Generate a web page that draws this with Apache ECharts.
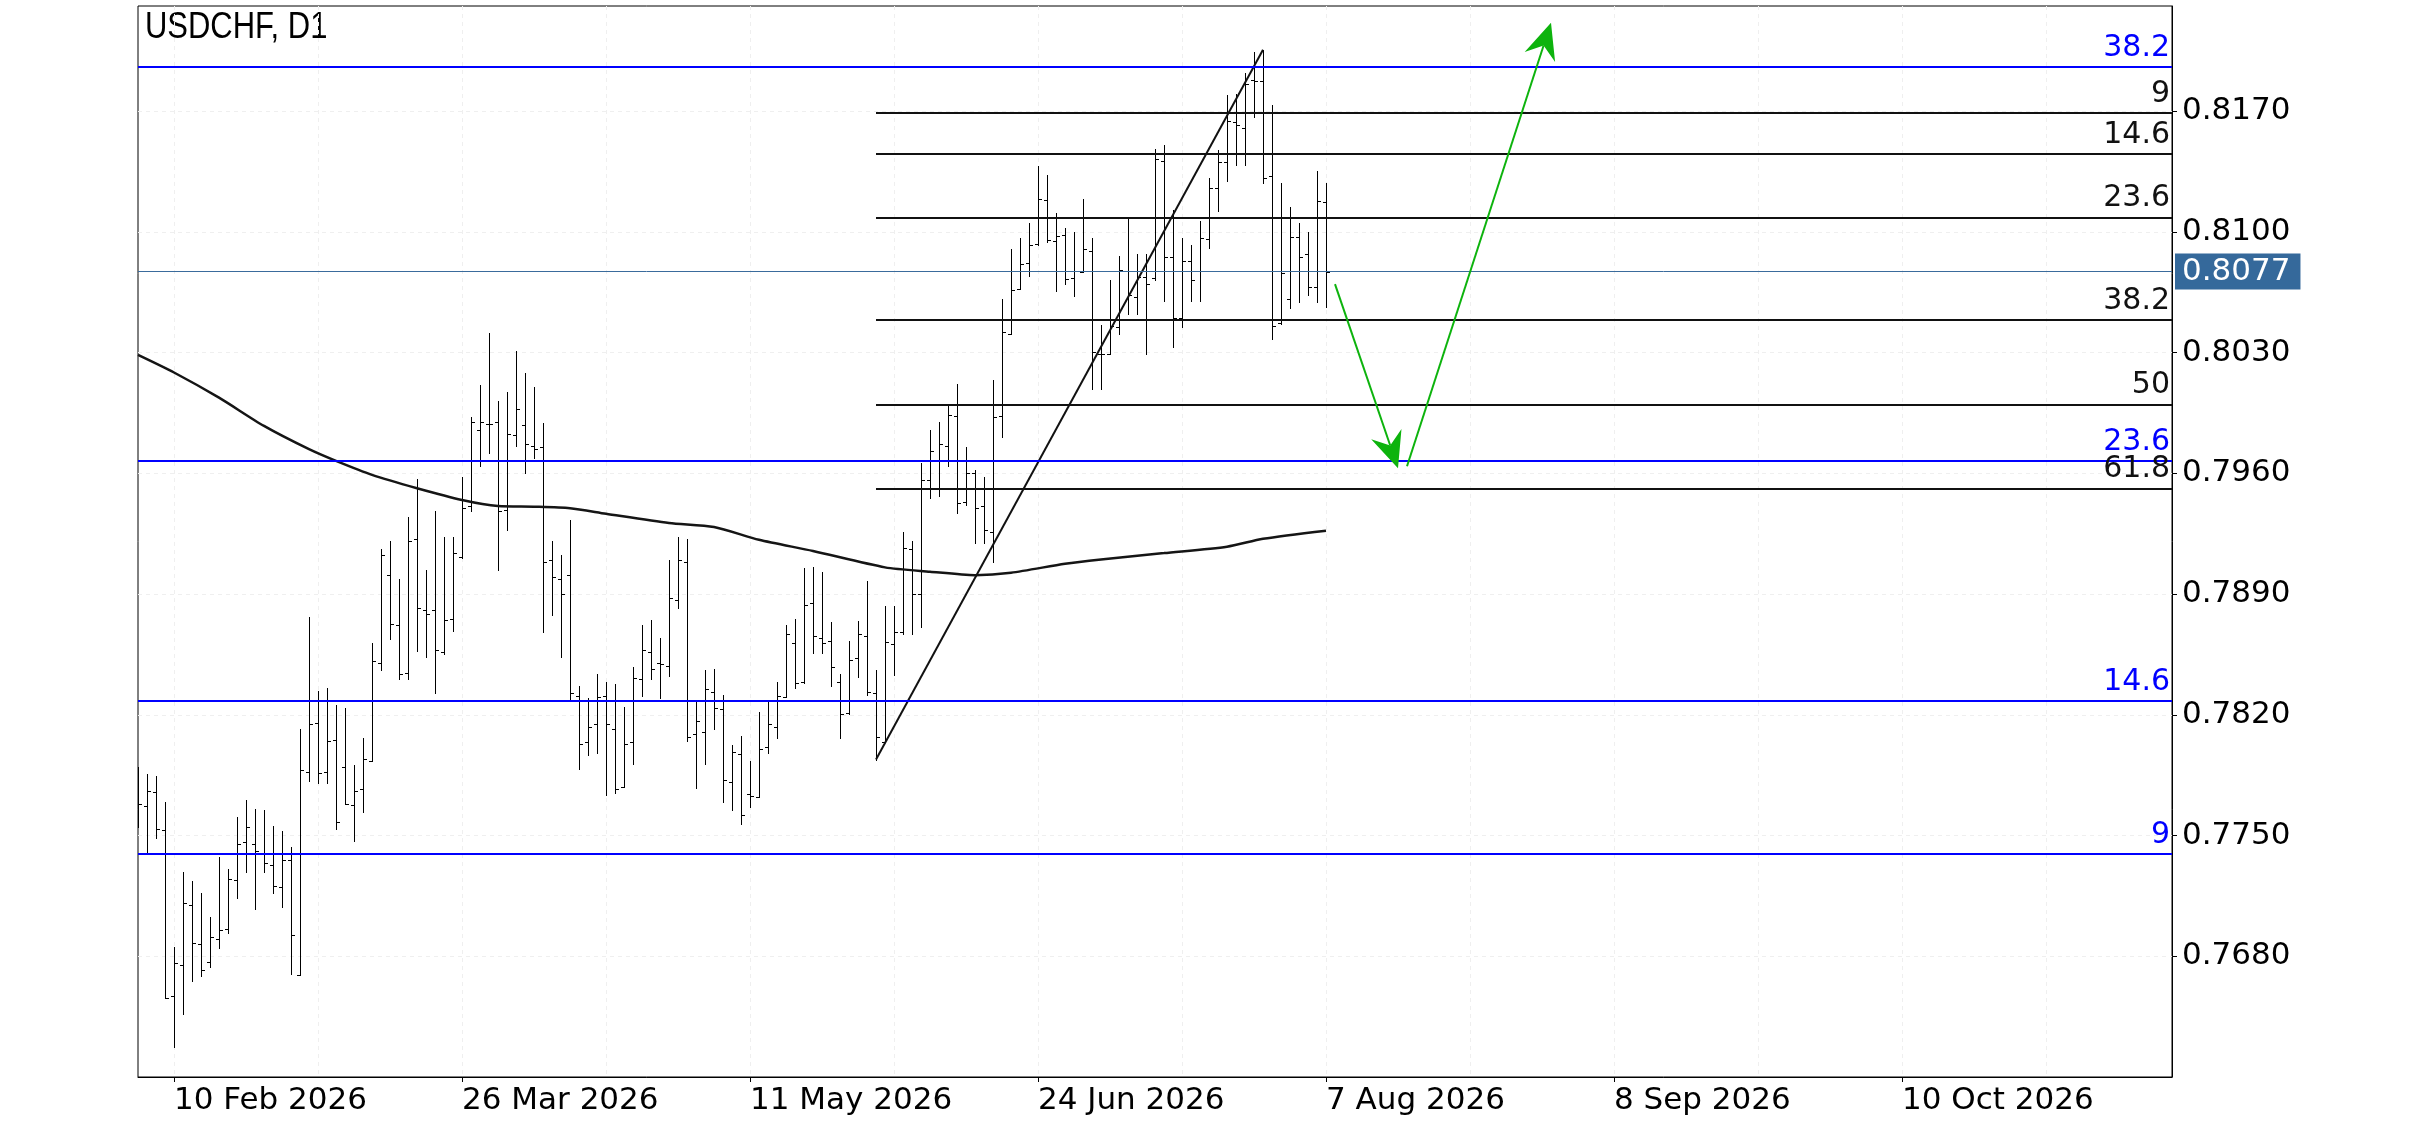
<!DOCTYPE html>
<html><head><meta charset="utf-8">
<script src="https://cdn.jsdelivr.net/npm/echarts/dist/echarts.min.js"></script>
<style>html,body{margin:0;padding:0;background:#fff}#c{width:2436px;height:1125px}</style>
</head><body><div id="c"></div>
<script>
// ---- DATA (daily bars, first bar = 4 Feb 2026) ----
const openP = [0.77700,0.77674,0.77753,0.77534,0.76571,0.76751,0.77099,0.76873,0.76768,0.76902,0.76960,0.77244,0.77465,0.77453,0.77401,0.77331,0.77203,0.77360,0.76693,0.77870,0.78155,0.77869,0.78056,0.77896,0.77675,0.77770,0.77935,0.78503,0.79008,0.78718,0.78444,0.79217,0.78807,0.78805,0.78563,0.78753,0.79115,0.79409,0.79850,0.79889,0.79898,0.79386,0.79821,0.79879,0.79757,0.79751,0.79096,0.78985,0.79008,0.78312,0.78043,0.78144,0.78312,0.78115,0.77784,0.78043,0.78405,0.78567,0.78502,0.78486,0.78864,0.79084,0.78086,0.78101,0.78335,0.78235,0.77813,0.77975,0.77741,0.77726,0.78014,0.78132,0.78304,0.78614,0.78391,0.78846,0.78643,0.78627,0.78390,0.78212,0.78527,0.78656,0.78324,0.78045,0.78612,0.78679,0.79159,0.78898,0.79560,0.79672,0.79759,0.79931,0.79436,0.79604,0.79409,0.79260,0.79931,0.80411,0.80669,0.80818,0.80930,0.81185,0.80945,0.80982,0.80732,0.80765,0.80891,0.80291,0.80291,0.80446,0.80775,0.80624,0.80736,0.80732,0.81413,0.80853,0.80501,0.80830,0.80775,0.80957,0.81253,0.81408,0.81640,0.81600,0.81879,0.81878,0.81324,0.80470,0.80613,0.80968,0.80870,0.80679,0.81175];
const highP = [0.77900,0.77855,0.77846,0.77693,0.76851,0.77287,0.77234,0.77165,0.77025,0.77374,0.77304,0.77606,0.77704,0.77652,0.77646,0.77554,0.77525,0.77432,0.78115,0.78770,0.78337,0.78356,0.78256,0.78240,0.77908,0.78066,0.78616,0.79161,0.79208,0.78989,0.79347,0.79568,0.79041,0.79382,0.79231,0.79231,0.79579,0.79924,0.80113,0.80415,0.80020,0.80073,0.80310,0.80183,0.80102,0.79892,0.79208,0.79126,0.79328,0.78366,0.78298,0.78436,0.78389,0.78376,0.78244,0.78476,0.78720,0.78749,0.78645,0.79098,0.79233,0.79217,0.78279,0.78459,0.78465,0.78314,0.78024,0.78076,0.77935,0.78215,0.78279,0.78389,0.78720,0.78755,0.79051,0.79057,0.79028,0.78738,0.78434,0.78627,0.78743,0.78976,0.78459,0.78830,0.78830,0.79260,0.79208,0.79662,0.79850,0.79898,0.80001,0.80117,0.79751,0.79620,0.79579,0.80142,0.80610,0.80901,0.80963,0.81052,0.81384,0.81332,0.81111,0.81022,0.81001,0.81191,0.80964,0.80459,0.80721,0.80860,0.81080,0.80871,0.80871,0.81480,0.81504,0.81130,0.80964,0.80924,0.81064,0.81313,0.81475,0.81793,0.81800,0.81924,0.82046,0.82055,0.81737,0.81282,0.81146,0.81053,0.80997,0.81353,0.81282];
const lowP = [0.77550,0.77405,0.77486,0.76559,0.76275,0.76464,0.76658,0.76685,0.76737,0.76847,0.76934,0.77138,0.77289,0.77074,0.77289,0.77167,0.77085,0.76697,0.76693,0.77815,0.77805,0.77805,0.77540,0.77685,0.77470,0.77637,0.77935,0.78461,0.78641,0.78409,0.78409,0.78571,0.78536,0.78328,0.78550,0.78687,0.79111,0.79384,0.79645,0.79720,0.79041,0.79274,0.79759,0.79604,0.79691,0.78681,0.78780,0.78536,0.78279,0.77886,0.77969,0.77979,0.77737,0.77747,0.77780,0.77912,0.78310,0.78409,0.78299,0.78424,0.78821,0.78051,0.77776,0.77915,0.78119,0.77695,0.77648,0.77567,0.77664,0.77724,0.77979,0.78066,0.78302,0.78357,0.78386,0.78560,0.78560,0.78370,0.78066,0.78206,0.78420,0.78314,0.77940,0.78045,0.78430,0.78670,0.78670,0.78712,0.79459,0.79471,0.79643,0.79372,0.79417,0.79198,0.79198,0.79088,0.79813,0.80411,0.80667,0.80744,0.80926,0.80939,0.80655,0.80698,0.80626,0.80765,0.80092,0.80092,0.80291,0.80407,0.80527,0.80527,0.80295,0.80720,0.80597,0.80335,0.80446,0.80597,0.80601,0.80908,0.81124,0.81297,0.81386,0.81386,0.81664,0.81286,0.80381,0.80468,0.80557,0.80593,0.80637,0.80593,0.80564];
const closeP = [0.77685,0.77761,0.77540,0.76559,0.76762,0.77110,0.76878,0.76720,0.76913,0.76954,0.77250,0.77453,0.77552,0.77412,0.77343,0.77209,0.77356,0.76921,0.77882,0.78145,0.77863,0.78047,0.77577,0.77685,0.77761,0.77946,0.78515,0.79126,0.78724,0.78434,0.79208,0.78817,0.78786,0.78573,0.78747,0.79136,0.79397,0.79898,0.79898,0.79889,0.79382,0.79827,0.79972,0.79769,0.79742,0.79084,0.78997,0.78898,0.78324,0.78033,0.78132,0.78306,0.78144,0.77770,0.78033,0.78416,0.78573,0.78463,0.78496,0.78875,0.79096,0.78070,0.78167,0.78347,0.78242,0.77824,0.77985,0.77621,0.77732,0.78004,0.78144,0.78312,0.78666,0.78386,0.78836,0.78656,0.78614,0.78476,0.78202,0.78517,0.78666,0.78335,0.78074,0.78625,0.78679,0.79165,0.78902,0.79562,0.79730,0.79769,0.79937,0.79426,0.79604,0.79401,0.79270,0.79924,0.80417,0.80665,0.80814,0.80924,0.81191,0.80953,0.80978,0.80726,0.80771,0.80901,0.80301,0.80291,0.80455,0.80779,0.80636,0.80736,0.80700,0.81425,0.80857,0.80501,0.80830,0.80719,0.80964,0.81253,0.81408,0.81646,0.81620,0.81860,0.81875,0.81310,0.80457,0.80759,0.80968,0.80857,0.80679,0.81182,0.80770];

// moving average, read at [bar number from first bar, value]
const maPoints = [[0,0.80287],[4,0.80185],[9,0.80039],[14,0.79875],[19,0.79740],[22,0.79672],[26,0.79591],[31,0.79514],[36,0.79446],[40,0.79411],[44,0.79407],[48,0.79398],[52,0.79366],[59,0.79312],[64,0.79289],[69,0.79215],[75,0.79150],[83,0.79055],[88,0.79030],[93,0.79010],[97,0.79024],[103,0.79076],[107,0.79101],[114,0.79138],[121,0.79175],[125,0.79221],[132,0.79268]];
const trendLine = [[82,0.77941],[125,0.82056]];
const fibStartBar = 82;
const blackLevels = [0.81690,0.81451,0.81085,0.80490,0.80000,0.79513];
const blackLabels = ['9','14.6','23.6','38.2','50','61.8'];
const blueLevels = [0.81955,0.79672,0.78281,0.77392];
const blueLabels = ['38.2','23.6','14.6','9'];
const currentPrice = 0.8077;
const arrows = [[[133,0.80697],[140,0.79630]],[[141,0.79641],[157,0.82213]]];
const xTickLabels = ['10 Feb 2026','26 Mar 2026','11 May 2026','24 Jun 2026','7 Aug 2026','8 Sep 2026','10 Oct 2026'];
const yMin = 0.7610, yMax = 0.8231, yStep = 0.007;
const futureSlots = 94;

// ---- categories: trading days for bars, calendar days after last bar ----
const MONTHS = ['Jan','Feb','Mar','Apr','May','Jun','Jul','Aug','Sep','Oct','Nov','Dec'];
const DAY = 86400000;
const fmt = t => { const d = new Date(t); return d.getUTCDate() + ' ' + MONTHS[d.getUTCMonth()] + ' ' + d.getUTCFullYear(); };
const cats = [];
let t = Date.UTC(2026, 1, 4);
for (let k = 0; k < openP.length; k++) {
  while ([0, 6].includes(new Date(t).getUTCDay())) t += DAY;
  cats.push(fmt(t)); t += DAY;
}
for (let k = 0; k < futureSlots; k++) { cats.push(fmt(t)); t += DAY; }
const lastCat = cats.length - 1;

const FONT = 'DejaVu Sans';
const chart = echarts.init(document.getElementById('c'), null, {renderer: 'canvas'});

const levelLines = [];
blueLevels.forEach((v, k) => levelLines.push([
  {coord: [0, v], lineStyle: {color: '#0000ff', width: 2, type: 'solid'},
   label: {show: true, position: 'insideEndTop', formatter: blueLabels[k], color: '#0000ff', fontSize: 30, fontFamily: FONT, distance: [2, 4]}},
  {coord: [lastCat, v]}]));
blackLevels.forEach((v, k) => levelLines.push([
  {coord: [fibStartBar, v], lineStyle: {color: '#111111', width: 2, type: 'solid'},
   label: {show: true, position: 'insideEndTop', formatter: blackLabels[k], color: '#111111', fontSize: 30, fontFamily: FONT, distance: [2, 4]}},
  {coord: [lastCat, v]}]));
levelLines.push([
  {coord: [0, currentPrice], lineStyle: {color: '#3a6b9c', width: 1, type: 'solid'},
   label: {show: true, position: 'end', formatter: currentPrice.toFixed(4), color: '#ffffff', backgroundColor: '#35699b',
     padding: [3, 10, 2, 7], fontSize: 31, fontFamily: FONT, distance: 3}},
  {coord: [lastCat, currentPrice]}]);

const option = {
  animation: false,
  backgroundColor: '#ffffff',
  graphic: [{type: 'text', left: 145, top: 10, scaleX: 0.86,
    style: {text: 'USDCHF, D1', font: '36px "Liberation Sans", Arial, sans-serif', fill: '#000'}}],
  grid: {left: 138, right: 264, top: 6, bottom: 48, show: true, borderColor: '#000', borderWidth: 1},
  xAxis: {
    type: 'category', data: cats, boundaryGap: false,
    axisLine: {show: true, lineStyle: {color: '#000', width: 1}},
    axisTick: {show: true, length: 5, interval: (i, v) => xTickLabels.includes(v), lineStyle: {color: '#000'}},
    axisLabel: {interval: (i, v) => xTickLabels.includes(v), align: 'left', margin: 8, color: '#000', fontSize: 31, fontFamily: FONT},
    splitLine: {show: true, interval: i => i >= 4 && (i - 4) % 16 === 0, lineStyle: {color: '#efefef', type: [4, 4], width: 1}}
  },
  yAxis: {
    type: 'value', position: 'right', min: yMin, max: yMax, interval: yStep,
    axisLine: {show: true, lineStyle: {color: '#000', width: 1}},
    axisTick: {show: true, length: 5, lineStyle: {color: '#000'}},
    axisLabel: {showMinLabel: false, showMaxLabel: false, formatter: v => v.toFixed(4), margin: 10, color: '#000', fontSize: 31, fontFamily: FONT},
    splitLine: {show: true, showMinLine: false, showMaxLine: false, lineStyle: {color: '#efefef', type: [4, 4], width: 1}}
  },
  series: [
    {
      type: 'custom', name: 'USDCHF', clip: true, z: 3,
      data: openP.map((o, k) => [k, o, highP[k], lowP[k], closeP[k]]),
      encode: {x: 0, y: [1, 2, 3, 4]},
      renderItem: (params, api) => {
        const i = api.value(0);
        const pO = api.coord([i, api.value(1)]), pH = api.coord([i, api.value(2)]);
        const pL = api.coord([i, api.value(3)]), pC = api.coord([i, api.value(4)]);
        const x = Math.round(pH[0]) + 0.5;
        const yo = Math.round(pO[1]) + 0.5, yc = Math.round(pC[1]) + 0.5;
        const st = {stroke: '#000', lineWidth: 1};
        return {type: 'group', children: [
          {type: 'line', shape: {x1: x, y1: Math.round(pH[1]), x2: x, y2: Math.round(pL[1]) + 1}, style: st},
          {type: 'line', shape: {x1: x - 3.5, y1: yo, x2: x, y2: yo}, style: st},
          {type: 'line', shape: {x1: x, y1: yc, x2: x + 3.5, y2: yc}, style: st}
        ]};
      }
    },
    {
      type: 'line', name: 'MA', data: maPoints, symbol: 'none', smooth: 0.25, z: 4,
      lineStyle: {color: '#151515', width: 2.5}
    },
    {
      type: 'line', name: 'trend', data: trendLine, symbol: 'none', z: 4,
      lineStyle: {color: '#111', width: 2},
      markLine: {silent: true, symbol: ['none', 'none'], animation: false, data: levelLines}
    },
    {
      type: 'custom', name: 'arrows', z: 5,
      data: arrows.map(a => [a[0][0], a[0][1], a[1][0], a[1][1]]),
      encode: {x: [0, 2], y: [1, 3]},
      renderItem: (params, api) => {
        const p0 = api.coord([api.value(0), api.value(1)]);
        const p1 = api.coord([api.value(2), api.value(3)]);
        const dx = p1[0] - p0[0], dy = p1[1] - p0[1], len = Math.hypot(dx, dy);
        const ux = dx / len, uy = dy / len, nx = -uy, ny = ux;
        const L = 36, W = 16, N = 12;
        const bx = p1[0] - ux * L, by = p1[1] - uy * L;
        const mx = p1[0] - ux * (L - N), my = p1[1] - uy * (L - N);
        const col = '#0db30d';
        return {type: 'group', children: [
          {type: 'line', shape: {x1: p0[0], y1: p0[1], x2: mx, y2: my}, style: {stroke: col, lineWidth: 2}},
          {type: 'polygon', shape: {points: [[p1[0], p1[1]], [bx + nx * W, by + ny * W], [mx, my], [bx - nx * W, by - ny * W]]}, style: {fill: col}}
        ]};
      }
    }
  ]
};
chart.setOption(option);
</script>
</body></html>
